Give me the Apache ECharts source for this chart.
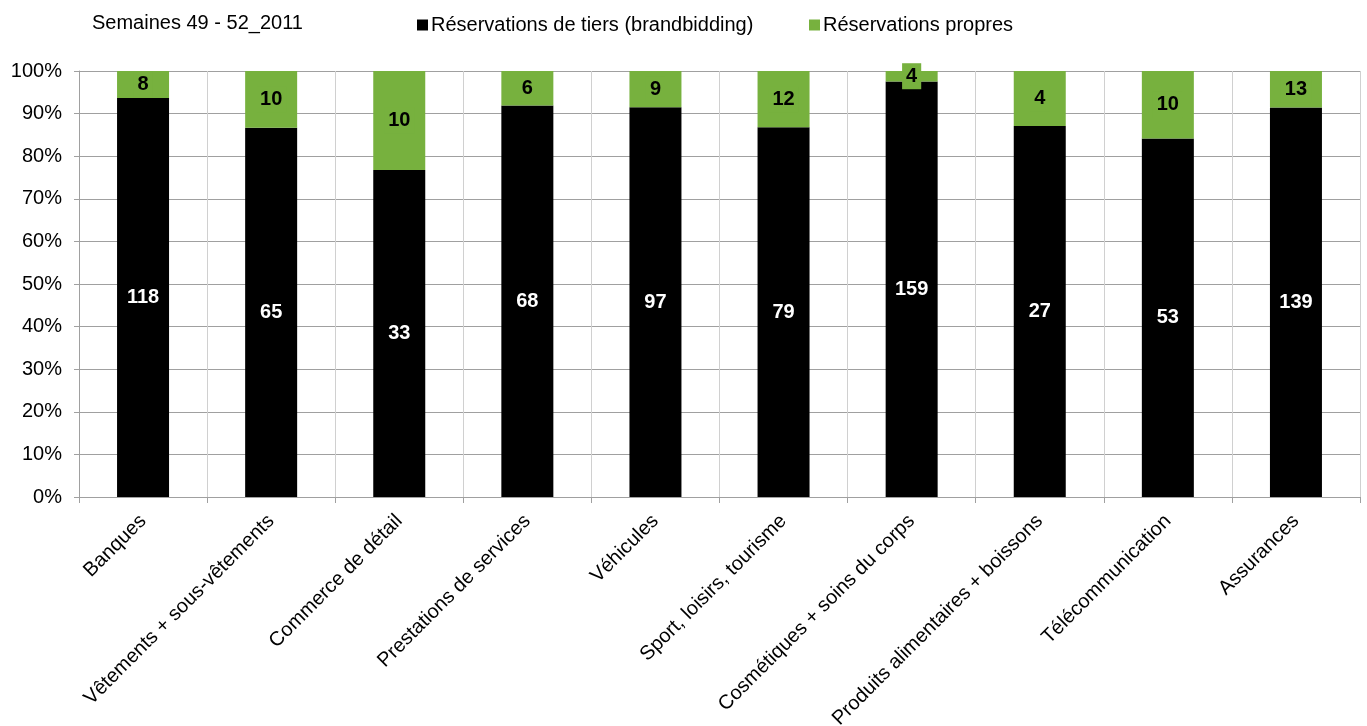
<!DOCTYPE html>
<html>
<head>
<meta charset="utf-8">
<script src="https://cdn.jsdelivr.net/npm/echarts@6/dist/echarts.min.js"></script>
<style>
html,body{margin:0;padding:0;background:#fff;}
#chart{width:1367px;height:726px;}
</style>
</head>
<body>
<div id="chart"></div>
<script>
var categories = ["Banques","Vêtements + sous-vêtements","Commerce de détail","Prestations de services","Véhicules","Sport, loisirs, tourisme","Cosmétiques + soins du corps","Produits alimentaires + boissons","Télécommunication","Assurances"];
var tiers = [118,65,33,68,97,79,159,27,53,139];
var propres = [8,10,10,6,9,12,4,4,10,13];
var yTicks = [0,10,20,30,40,50,60,70,80,90,100];

var FONT = '"Liberation Sans", Arial, sans-serif';
var tiersPct = tiers.map(function(v,i){return v/(v+propres[i])*100;});
var propresPct = propres.map(function(v,i){return v/(tiers[i]+v)*100;});

var chart = echarts.init(document.getElementById('chart'));
chart.setOption({
  animation:false,
  backgroundColor:'#fff',
  textStyle:{fontFamily:FONT},
  title:{text:'Semaines 49 - 52_2011',left:87,top:8,textStyle:{fontFamily:FONT,fontSize:20,fontWeight:'normal',color:'#000'}},
  legend:[
    {data:['Réservations de tiers (brandbidding)'],left:412,top:10,itemWidth:11,itemHeight:11,icon:'rect',itemGap:5,
     textStyle:{fontFamily:FONT,fontSize:20,color:'#000',padding:[0,0,0,-2]}},
    {data:['Réservations propres'],left:804,top:10,itemWidth:11,itemHeight:11,icon:'rect',
     textStyle:{fontFamily:FONT,fontSize:20,color:'#000',padding:[0,0,0,-2]}}
  ],
  grid:{left:79,right:7,top:71,bottom:229,containLabel:false,outerBoundsMode:'none'},
  xAxis:{type:'category',data:categories,
    axisLine:{lineStyle:{color:'#a0a0a0',width:1}},
    axisTick:{show:true,length:6,alignWithLabel:false,lineStyle:{color:'#a0a0a0'}},
    splitLine:{show:true,lineStyle:{color:'#d0d0d0',width:1}},
    axisLabel:{rotate:45,fontFamily:FONT,fontSize:20,color:'#000',margin:21,interval:0,hideOverlap:false}
  },
  yAxis:{type:'value',min:0,max:100,interval:10,
    axisLine:{show:true,lineStyle:{color:'#a0a0a0'}},
    axisTick:{show:true,length:5,lineStyle:{color:'#a0a0a0'}},
    splitLine:{show:true,lineStyle:{color:'#a0a0a0',width:1}},
    axisLabel:{fontFamily:FONT,fontSize:20,color:'#000',margin:17,formatter:function(v){return yTicks.indexOf(v)>=0? v+'%':'';}}
  },
  series:[
    {name:'Réservations de tiers (brandbidding)',type:'bar',stack:'s',data:tiersPct,barWidth:52,
     itemStyle:{color:'#000000'},
     label:{show:true,position:'inside',color:'#fff',fontFamily:FONT,fontSize:20,fontWeight:'bold',
       formatter:function(p){return tiers[p.dataIndex];}}},
    {name:'Réservations propres',type:'bar',stack:'s',data:propresPct,barWidth:52,
     itemStyle:{color:'#77b13e'},
     label:{show:true,position:'inside',color:'#000',fontFamily:FONT,fontSize:20,fontWeight:'bold',
       backgroundColor:'#77b13e',padding:[3,4,3,4],
       formatter:function(p){return propres[p.dataIndex];}}}
  ]
});
</script>
</body>
</html>
